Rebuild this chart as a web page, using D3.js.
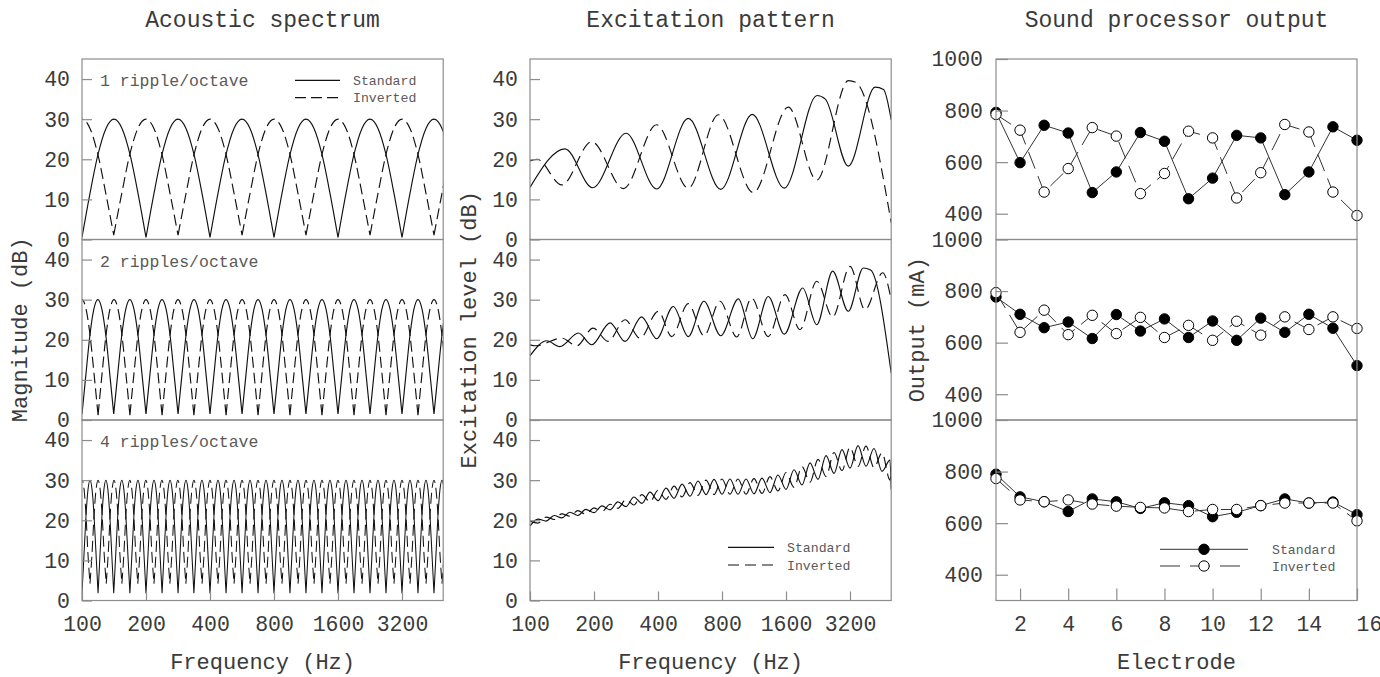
<!DOCTYPE html>
<html><head><meta charset="utf-8">
<script src="https://cdn.jsdelivr.net/npm/d3@7"></script>
<style>
body{margin:0;background:#fff;}
svg text{font-family:"Liberation Mono","Courier New",monospace;}
</style></head><body>
<script>
// ---------------- DATA ----------------
const columnTitles = ["Acoustic spectrum", "Excitation pattern", "Sound processor output"];
const xTitles = ["Frequency (Hz)", "Frequency (Hz)", "Electrode"];
const yTitles = ["Magnitude (dB)", "Excitation level (dB)", "Output (mA)"];
const freqDomain = [100, 5000];
const freqTicks = [100, 200, 400, 800, 1600, 3200];
const levelTicks = [0, 10, 20, 30, 40];
const levelDomain = [0, 45];
const outputTicks = [400, 600, 800, 1000];
const outputDomain = [300, 1000];
const electrodeTicks = [2, 4, 6, 8, 10, 12, 14, 16];
const electrodes = [1, 2, 3, 4, 5, 6, 7, 8, 9, 10, 11, 12, 13, 14, 15, 16];
const rippleLabels = ["1 ripple/octave", "2 ripples/octave", "4 ripples/octave"];
const seriesNames = ["Standard", "Inverted"];

// Acoustic spectrum: level across one spectral lobe (notch -> peak -> notch), dB
const lobeLevels = [0, 11.5, 21.2, 27.7, 30, 27.7, 21.2, 11.5, 0];
// typical depth reached at the notches (dB) in each panel, as drawn
const acNotchFloorStd = [0.5, 1.5, 1.8];
const acNotchFloorInv = [1.1, 1.2, 4.2];
// notch frequencies (Hz) of each rippled spectrum
const acNotchStd1 = [100, 200, 400, 800, 1600, 3200, 6400];
const acNotchInv1 = [71, 141, 283, 566, 1131, 2263, 4525, 9051];
const acNotchStd2 = [100, 141, 200, 283, 400, 566, 800, 1131, 1600, 2263, 3200, 4525, 6400];
const acNotchInv2 = [84, 119, 168, 238, 336, 476, 673, 951, 1345, 1903, 2691, 3805, 5382];
const acNotchStd4 = [100, 119, 141, 168, 200, 238, 283, 336, 400, 476, 566, 673, 800, 951, 1131, 1345, 1600, 1903, 2263, 2691, 3200, 3805, 4525, 5382];
const acNotchInv4 = [92, 109, 130, 154, 183, 218, 259, 308, 367, 436, 519, 617, 734, 872, 1038, 1234, 1467, 1745, 2075, 2468, 2934, 3490, 4150, 4935, 5869];

// Excitation pattern, 1 ripple/octave
const ex1StdFreq  = [100, 146, 197, 283, 394, 555, 789, 1110, 1571, 2240, 2450, 3141, 4200, 4600, 5000];
const ex1StdLevel = [13, 22.6, 12.9, 26.5, 12.6, 30.2, 12.5, 31.2, 12.8, 35.9, 35, 18.3, 38, 37.4, 29.8];
const ex1InvFreq  = [100, 108, 141, 195, 275, 394, 555, 769, 1123, 1640, 2231, 3141, 3400, 5000];
const ex1InvLevel = [19.6, 20, 13.6, 24.4, 12.7, 28.6, 12.8, 31.1, 11.7, 33, 14.8, 39.6, 39.2, 4.2];
// Excitation pattern, 2 ripples/octave
const ex2StdFreq  = [100, 120, 138, 169, 195, 238, 280, 335, 394, 472, 555, 658, 789, 955, 1116, 1320, 1571, 1917, 2232, 2653, 3141, 3696, 4000, 5000];
const ex2StdLevel = [16, 19.75, 18.3, 21.7, 18.75, 24.2, 19.6, 25.7, 20.25, 28.3, 20.8, 29.6, 21, 30.2, 20.25, 30.8, 21.4, 32.9, 23.75, 37.1, 27.1, 37.9, 37.4, 11.7];
const ex2InvFreq  = [100, 106, 141, 166, 198, 233, 280, 329, 401, 464, 555, 658, 783, 938, 1104, 1320, 1583, 1862, 2232, 2653, 3200, 3764, 4560, 5000];
const ex2InvLevel = [18.75, 18.5, 20.4, 18.5, 22.9, 19.6, 25, 20.4, 27.1, 20.8, 29, 21, 29.6, 20.7, 30.4, 20.8, 31.25, 22.5, 34.6, 25.7, 38.3, 27.5, 36.7, 30];
// Excitation pattern, 4 ripples/octave (shared extremum frequencies)
const ex4Freq = [100, 109, 119, 130, 141, 154, 168, 183, 200, 218, 238, 259, 283, 308, 336, 367, 400, 436, 476, 519, 566, 617, 673, 734, 800, 872, 951, 1038, 1131, 1234, 1345, 1467, 1600, 1745, 1903, 2075, 2263, 2468, 2691, 2934, 3200, 3490, 3805, 4150, 4525, 4935, 5000];
const ex4StdLevel = [18.6, 20.3, 19.8, 21.2, 20.6, 22.0, 21.2, 22.7, 21.9, 23.6, 22.6, 24.6, 23.4, 25.8, 24.2, 27.0, 24.9, 28.0, 25.5, 29.0, 26.0, 29.8, 26.4, 30.2, 26.5, 30.3, 26.5, 30.3, 26.6, 30.5, 26.9, 31.3, 27.7, 32.6, 28.8, 34.3, 30.2, 36.1, 31.7, 37.6, 33.0, 38.6, 33.5, 37.9, 32.2, 35.0, 27.7];
const ex4InvLevel = [19.8, 19.3, 20.8, 20.2, 21.6, 21.0, 22.4, 21.5, 23.1, 22.2, 24.0, 23.0, 25.2, 23.8, 26.4, 24.6, 27.5, 25.2, 28.5, 25.8, 29.4, 26.2, 30.0, 26.4, 30.3, 26.5, 30.3, 26.5, 30.4, 26.7, 30.9, 27.3, 31.9, 28.2, 33.4, 29.5, 35.2, 30.9, 36.9, 32.4, 38.2, 33.4, 38.5, 33.1, 36.8, 30.0, 33.0];

// Sound processor output (mA) per electrode
const outStd1 = [793, 598, 743, 713, 482, 562, 715, 681, 458, 538, 704, 694, 474, 562, 737, 685];
const outInv1 = [785, 724, 484, 575, 734, 701, 478, 556, 720, 694, 461, 559, 746, 717, 484, 393];
const outStd2 = [777, 710, 658, 680, 616, 709, 645, 692, 620, 684, 609, 695, 640, 710, 656, 511];
const outInv2 = [794, 640, 726, 631, 706, 635, 698, 620, 667, 609, 683, 629, 700, 651, 700, 655];
const outStd3 = [790, 702, 683, 645, 694, 683, 657, 679, 668, 625, 642, 668, 694, 678, 682, 633];
const outInv3 = [773, 690, 683, 690, 674, 666, 661, 659, 645, 653, 653, 668, 678, 678, 678, 609];

// ---------------- LAYOUT / STYLE ----------------
const FONT = '"Liberation Mono","Courier New",monospace';
const FRAME = "#8c8c8c", INK = "#111", TEXT = "#3a3a3a", SUB = "#5a5a5a";
const plotTop = 59, panelH = 180.5;
const cols = [{x0: 82, x1: 443.2}, {x0: 530, x1: 891.2}, {x0: 996, x1: 1357}];
const panelTop = p => plotTop + p * panelH;

const svg = d3.select("body").append("svg").attr("width", 1380).attr("height", 677);
const defs = svg.append("defs");

// tables built from arrays
const acoustic = [
  {label: rippleLabels[0], std: acNotchStd1, inv: acNotchInv1},
  {label: rippleLabels[1], std: acNotchStd2, inv: acNotchInv2},
  {label: rippleLabels[2], std: acNotchStd4, inv: acNotchInv4}
];
const excitation = [
  {std: d3.zip(ex1StdFreq, ex1StdLevel), inv: d3.zip(ex1InvFreq, ex1InvLevel)},
  {std: d3.zip(ex2StdFreq, ex2StdLevel), inv: d3.zip(ex2InvFreq, ex2InvLevel)},
  {std: d3.zip(ex4Freq, ex4StdLevel), inv: d3.zip(ex4Freq, ex4InvLevel)}
];
const output = [
  {std: d3.zip(electrodes, outStd1), inv: d3.zip(electrodes, outInv1)},
  {std: d3.zip(electrodes, outStd2), inv: d3.zip(electrodes, outInv2)},
  {std: d3.zip(electrodes, outStd3), inv: d3.zip(electrodes, outInv3)}
];

function styleAxis(a) {
  a.attr("font-family", FONT).attr("font-size", 21.5);
  a.select(".domain").remove();
  a.selectAll(".tick line").attr("stroke", FRAME).attr("stroke-width", 1.2);
  a.selectAll(".tick text").attr("fill", TEXT);
  return a;
}
function frame(x0, x1, y0, y1) {
  svg.append("rect").attr("x", x0).attr("y", y0).attr("width", x1 - x0).attr("height", y1 - y0)
    .attr("fill", "none").attr("stroke", FRAME).attr("stroke-width", 1.2);
}
function clip(id, x0, x1, y0, y1) {
  defs.append("clipPath").attr("id", id).append("rect")
    .attr("x", x0).attr("y", y0).attr("width", x1 - x0).attr("height", y1 - y0);
  return `url(#${id})`;
}

// ---------- column titles & axis titles ----------
cols.forEach((c, i) => {
  const cx = (c.x0 + c.x1) / 2;
  svg.append("text").attr("x", cx).attr("y", 27).attr("text-anchor", "middle")
    .attr("font-size", 23).attr("fill", TEXT).text(columnTitles[i]);
  svg.append("text").attr("x", cx).attr("y", 669).attr("text-anchor", "middle")
    .attr("font-size", 22).attr("fill", TEXT).text(xTitles[i]);
});
const yTitleX = [27, 476, 924];
yTitles.forEach((t, i) => {
  svg.append("text").attr("transform", `translate(${yTitleX[i]},${plotTop + 1.5 * panelH}) rotate(-90)`)
    .attr("text-anchor", "middle").attr("font-size", 22).attr("fill", TEXT).text(t);
});

// ---------- Acoustic spectrum & excitation pattern ----------
[0, 1].forEach(ci => {
  const c = cols[ci];
  const x = d3.scaleLog().domain(freqDomain).range([c.x0, c.x1]);
  for (let p = 0; p < 3; p++) {
    const y0 = panelTop(p), y1 = y0 + panelH;
    const y = d3.scaleLinear().domain(levelDomain).range([y1, y0]);
    const cp = clip(`c${ci}${p}`, c.x0, c.x1, y0, y1);
    const line = d3.line().x(d => x(d[0])).y(d => y(d[1])).curve(d3.curveMonotoneX);
    let paths;
    if (ci === 0) {
      const n = lobeLevels.length - 1;
      const lobes = (notches, floor) => d3.pairs(notches).map(([a, b]) =>
        line(lobeLevels.map((lv, j) => [a * Math.pow(b / a, j / n), (j === 0 || j === n) ? Math.max(lv, floor) : lv]))).join("");
      paths = [{d: lobes(acoustic[p].std, acNotchFloorStd[p]), dash: null},
               {d: lobes(acoustic[p].inv, acNotchFloorInv[p]), dash: "11,5"}];
    } else {
      paths = [{d: line(excitation[p].std), dash: null}, {d: line(excitation[p].inv), dash: "11,6"}];
    }
    const g = svg.append("g").attr("clip-path", cp);
    paths.forEach(s => g.append("path").attr("d", s.d).attr("fill", "none").attr("stroke", INK)
      .attr("stroke-width", p === 2 && ci === 0 ? 1.05 : 1.15).attr("stroke-dasharray", s.dash));
    frame(c.x0, c.x1, y0, y1);
    styleAxis(svg.append("g").attr("transform", `translate(${c.x0},0)`)
      .call(d3.axisLeft(y).tickValues(levelTicks).tickSizeInner(-10).tickSizeOuter(0).tickPadding(12)));
    if (p === 2) {
      styleAxis(svg.append("g").attr("transform", `translate(0,${y1})`)
        .call(d3.axisBottom(x).tickValues(freqTicks).tickFormat(d3.format("d"))
          .tickSizeInner(-9).tickSizeOuter(0).tickPadding(15)));
    }
    if (ci === 0) {
      svg.append("text").attr("x", c.x0 + 18).attr("y", y0 + 27).attr("font-size", 16.5)
        .attr("fill", SUB).text(acoustic[p].label);
    }
  }
});

// ---------- legends for line panels ----------
function lineLegend(xa, xb, ys, dashes) {
  seriesNames.forEach((n, i) => {
    svg.append("line").attr("x1", xa).attr("x2", xb).attr("y1", ys[i]).attr("y2", ys[i])
      .attr("stroke", INK).attr("stroke-width", 1.2).attr("stroke-dasharray", i ? dashes : null);
    svg.append("text").attr("x", xb + 13).attr("y", ys[i] + 4.5).attr("font-size", 13.2)
      .attr("fill", SUB).text(n);
  });
}
lineLegend(295, 340, [80.3, 97.7], "11,5");
lineLegend(728, 774, [547.3, 565], "11,6");

// ---------- Sound processor output ----------
{
  const c = cols[2];
  const x = d3.scaleLinear().domain([1, 16]).range([c.x0, c.x1]);
  for (let p = 0; p < 3; p++) {
    const y0 = panelTop(p), y1 = y0 + panelH;
    const y = d3.scaleLinear().domain(outputDomain).range([y1, y0]);
    const line = d3.line().x(d => x(d[0])).y(d => y(d[1]));
    const g = svg.append("g");
    g.append("path").attr("d", line(output[p].std)).attr("fill", "none").attr("stroke", "#333").attr("stroke-width", 1);
    g.selectAll("circle.s").data(output[p].std).join("circle").attr("class", "s")
      .attr("cx", d => x(d[0])).attr("cy", d => y(d[1])).attr("r", 5.2)
      .attr("fill", "#000").attr("stroke", "#000").attr("stroke-width", 1);
    g.append("path").attr("d", line(output[p].inv)).attr("fill", "none").attr("stroke", "#333")
      .attr("stroke-width", 1).attr("stroke-dasharray", "18,8");
    g.selectAll("circle.i").data(output[p].inv).join("circle").attr("class", "i")
      .attr("cx", d => x(d[0])).attr("cy", d => y(d[1])).attr("r", 5.2)
      .attr("fill", "#fff").attr("stroke", "#000").attr("stroke-width", 1);
    frame(c.x0, c.x1, y0, y1);
    styleAxis(svg.append("g").attr("transform", `translate(${c.x0},0)`)
      .call(d3.axisLeft(y).tickValues(outputTicks).tickFormat(d3.format("d"))
        .tickSizeInner(-12).tickSizeOuter(0).tickPadding(13)));
    if (p === 2) {
      const ax = styleAxis(svg.append("g").attr("transform", `translate(0,${y1})`)
        .call(d3.axisBottom(x).tickValues(electrodeTicks).tickFormat(d3.format("d"))
          .tickSizeInner(-12).tickSizeOuter(0).tickPadding(15)));
      ax.selectAll(".tick text").filter(d => d === 16).attr("dx", 12);
    }
  }
  // legend
  const ys = [549.3, 566];
  seriesNames.forEach((n, i) => {
    svg.append("line").attr("x1", 1160).attr("x2", 1248).attr("y1", ys[i]).attr("y2", ys[i])
      .attr("stroke", "#333").attr("stroke-width", 1).attr("stroke-dasharray", i ? "20,10" : null);
    svg.append("circle").attr("cx", 1204).attr("cy", ys[i]).attr("r", 5.2)
      .attr("fill", i ? "#fff" : "#000").attr("stroke", "#000").attr("stroke-width", 1);
    svg.append("text").attr("x", 1272).attr("y", ys[i] + 4.5).attr("font-size", 13.2)
      .attr("fill", SUB).text(n);
  });
}
</script></body></html>
